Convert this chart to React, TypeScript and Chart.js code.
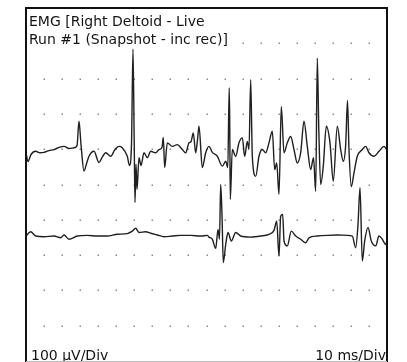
import React, { useEffect, useRef } from "react";
import { Chart, registerables } from "chart.js";

Chart.register(...registerables);

// Time axis in ms (10 ms/Div), amplitude axis in µV (100 µV/Div)
const X_MIN = 0;
const X_MAX = 100;
const Y_MIN = -500;
const Y_MAX = 500;
const GRID_X_STEP = 5;
const GRID_Y_STEP = 100;

const titleLines = ["EMG [Right Deltoid - Live", "Run #1 (Snapshot - inc rec)]"];
const leftFooter = "100 µV/Div";
const rightFooter = "10 ms/Div";

// Upper trace
const trace1Time = [
  0, 0.55, 1.39, 2.69, 3.88, 4.99, 6.37, 7.76, 9.14, 10.53, 11.91, 13.3, 14.13, 14.68, 15.24, 16.07,
  16.76, 17.45, 18.84, 20.22, 21.05, 22.08, 23.46, 24.65, 25.76, 26.59, 28.06, 28.67, 29.22, 29.64,
  29.97, 30.19, 30.47, 30.75, 31.3, 31.86, 32.69, 33.6, 34.54, 35.93, 36.84, 37.67, 38.03, 38.42,
  39.14, 40.53, 41.91, 43.3, 44.24, 45.15, 45.71, 46.34, 47.01, 47.51, 47.92, 48.84, 49.78, 50.69,
  51.61, 52.99, 54.38, 55.32, 55.9, 56.29, 56.43, 56.59, 57.15, 58.09, 59.0, 59.92, 60.58, 61.3,
  61.77, 62.24, 62.69, 63.63, 64.54, 65.46, 66.4, 67.31, 68.23, 68.89, 69.45, 70.08, 70.72, 71.47,
  72.38, 73.32, 74.24, 75.15, 76.09, 77.01, 77.92, 78.86, 79.64, 80.25, 80.69, 81.11, 81.63, 82.35,
  83.19, 84.21, 85.12, 86.23, 87.17, 87.89, 88.56, 89.06, 89.47, 90.11, 90.86, 91.77, 93.16, 94.1,
  95.01, 96.4, 97.78, 99.17, 99.92,
];
const trace1Values = [
  90, 65, 85, 94, 90, 91, 96, 99, 105, 108, 102, 104, 110, 179, 113, 38,
  59, 80, 94, 62, 76, 90, 80, 99, 108, 105, 80, 54, 113, 384,
  127, -51, 57, -14, 76, 54, 90, 76, 94, 90, 99, 105, 133, 48,
  118, 108, 113, 99, 90, 118, 121, 146, 90, 127, 165, 48, 90, 108,
  91, 80, 52, 66, 48, 274, 184, -42, 99, 80, 118, 132, 80, 122,
  99, 297, 80, 23, 80, 99, 90, 118, 151, 42, 61, -28, 221, 90,
  118, 136, 99, 61, 90, 179, 108, 42, 76, -19, 358, 155, 0, 52,
  165, 118, 9, 165, 99, 66, 113, 238, 99, -6, 33, 80, 99, 108,
  90, 80, 94, 108, 99,
];

// Lower trace
const trace2Time = [
  0, 1.3, 2.69, 4.99, 7.76, 9.61, 10.53, 11.91, 14.21, 16.98, 19.75, 22.52, 25.29, 28.06, 29.45,
  30.39, 31.3, 33.16, 34.54, 36.37, 38.23, 40.53, 42.85, 45.62, 48.39, 50.22, 50.69, 51.61, 52.55,
  53.19, 53.6, 53.93, 54.29, 54.65, 55.32, 55.96, 56.87, 58.09, 59.47, 62.24, 65.01, 67.31, 68.7,
  69.45, 70.08, 70.55, 71.11, 71.47, 72.38, 73.49, 74.71, 76.09, 77.48, 78.39, 80.69, 83.46, 86.23,
  89.0, 90.39, 91.33, 91.97, 92.52, 93.16, 93.82, 94.74, 95.65, 96.87, 97.78, 98.7, 99.64, 100,
];
const trace2Values = [
  -146, -134, -146, -148, -146, -151, -143, -155, -146, -144, -146, -146, -141, -139, -132,
  -124, -136, -134, -138, -143, -148, -146, -144, -144, -146, -144, -149, -155, -181,
  -127, -155, 0, -85, -221, -170, -136, -160, -136, -146, -149, -146, -141, -130,
  -104, -203, -90, -85, -160, -174, -132, -146, -155, -165, -151, -146, -144, -143,
  -144, -146, -179, -113, -9, -217, -160, -122, -160, -174, -146, -155, -170, -160,
];

const toPoints = (xs: number[], ys: number[]) => xs.map((x, i) => ({ x, y: ys[i] }));

const FONT = '14px "DejaVu Sans", Verdana, sans-serif';

const scopePlugin = {
  id: "scope",
  beforeDatasetsDraw(chart: any) {
    const { ctx, scales } = chart;
    const xs = scales.x;
    const ys = scales.y;
    ctx.save();
    ctx.fillStyle = "#8c8c8c";
    for (let v = Y_MIN + GRID_Y_STEP; v < Y_MAX; v += GRID_Y_STEP) {
      const py = ys.getPixelForValue(v);
      for (let t = X_MIN + GRID_X_STEP; t < X_MAX; t += GRID_X_STEP) {
        const px = xs.getPixelForValue(t);
        ctx.fillRect(Math.round(px) - 0.5, Math.round(py) - 0.5, 1.5, 1.5);
      }
    }
    ctx.restore();
  },
  afterDatasetsDraw(chart: any) {
    const { ctx, chartArea } = chart;
    const { left, right, top, bottom } = chartArea;
    ctx.save();
    ctx.font = FONT;
    ctx.textBaseline = "alphabetic";
    const tx = left + 3;
    const baselines = [top + 17.5, top + 35.5];
    titleLines.forEach((line, i) => {
      const w = ctx.measureText(line).width;
      ctx.fillStyle = "#ffffff";
      ctx.fillRect(tx - 1, baselines[i] - 13, w + 2, 17);
      ctx.fillStyle = "#141414";
      ctx.fillText(line, tx, baselines[i]);
    });
    ctx.fillStyle = "#141414";
    ctx.textAlign = "left";
    ctx.fillText(leftFooter, left + 5, bottom - 1);
    ctx.textAlign = "right";
    ctx.fillText(rightFooter, right - 1, bottom - 1);

    // frame
    ctx.strokeStyle = "#111111";
    ctx.lineWidth = 2;
    ctx.beginPath();
    ctx.moveTo(left, bottom + 2);
    ctx.lineTo(left, top);
    ctx.lineTo(right, top);
    ctx.lineTo(right, bottom + 2);
    ctx.stroke();
    ctx.strokeStyle = "#bdbdbd";
    ctx.lineWidth = 1;
    ctx.beginPath();
    ctx.moveTo(left, bottom + 0.5);
    ctx.lineTo(right, bottom + 0.5);
    ctx.stroke();
    ctx.restore();
  },
};

export default function App() {
  const canvasRef = useRef<HTMLCanvasElement | null>(null);

  useEffect(() => {
    if (!canvasRef.current) return;
    const chart = new Chart(canvasRef.current, {
      type: "line",
      data: {
        datasets: [
          {
            label: "Trace 1",
            data: toPoints(trace1Time, trace1Values),
            borderColor: "#202020",
            borderWidth: 1.4,
            pointRadius: 0,
            cubicInterpolationMode: "monotone",
          },
          {
            label: "Trace 2",
            data: toPoints(trace2Time, trace2Values),
            borderColor: "#202020",
            borderWidth: 1.4,
            pointRadius: 0,
            cubicInterpolationMode: "monotone",
          },
        ],
      },
      options: {
        animation: false,
        responsive: true,
        maintainAspectRatio: false,
        parsing: false as any,
        layout: { padding: { left: 26, right: 20, top: 8, bottom: 1 } },
        plugins: {
          legend: { display: false },
          tooltip: { enabled: false },
          title: { display: false },
        },
        scales: {
          x: { type: "linear", min: X_MIN, max: X_MAX, display: false },
          y: { type: "linear", min: Y_MIN, max: Y_MAX, display: false },
        },
      },
      plugins: [scopePlugin],
    });
    return () => chart.destroy();
  }, []);

  return (
    <div
      style={{
        position: "fixed",
        left: 0,
        top: 0,
        width: 407,
        height: 362,
        background: "#ffffff",
      }}
    >
      <canvas ref={canvasRef} />
    </div>
  );
}
